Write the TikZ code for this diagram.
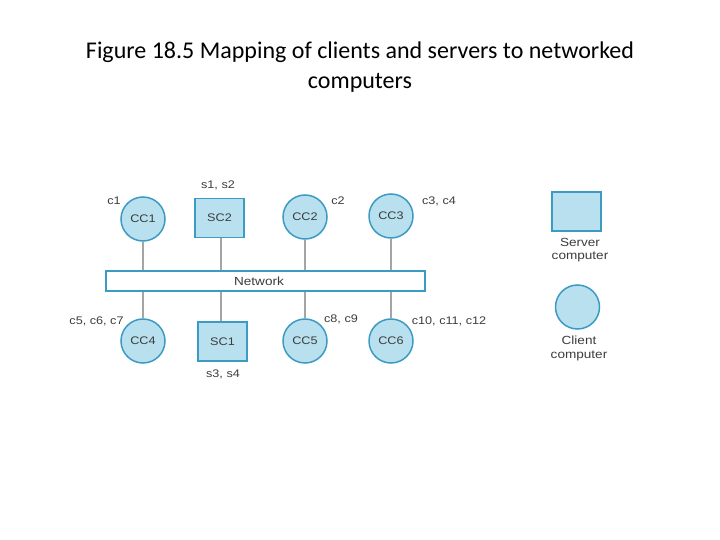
\documentclass[tikz,border=0pt]{standalone}
\usepackage{fontspec}
\setmainfont{Carlito}
\newfontfamily\figfont[FakeStretch=1.15]{Liberation Sans}
\definecolor{fillblue}{RGB}{184,224,238}
\definecolor{edgeblue}{RGB}{60,155,195}
\definecolor{linkgrey}{RGB}{165,165,165}
\definecolor{labelgrey}{RGB}{60,60,60}
\tikzset{
  client/.style={circle,draw=edgeblue,fill=fillblue,line width=1.5pt,minimum size=44pt,inner sep=0pt,font=\figfont\fontsize{11}{13}\selectfont,text=labelgrey},
  server/.style={rectangle,draw=edgeblue,fill=fillblue,line width=1.5pt,minimum width=49pt,minimum height=39pt,inner sep=0pt,font=\figfont\fontsize{11}{13}\selectfont,text=labelgrey},
  netbar/.style={rectangle,draw=edgeblue,fill=white,line width=1.5pt,minimum width=319pt,minimum height=20pt,inner sep=0pt,text=labelgrey},
  link/.style={draw=linkgrey,line width=1.5pt},
  lab/.style={inner sep=0pt,font=\figfont\fontsize{11}{13}\selectfont,text=labelgrey},
  legendtext/.style={inner sep=0pt,align=center,font=\figfont\fontsize{11.8}{13.5}\selectfont,text=labelgrey},
  titletext/.style={inner sep=0pt,align=center,font=\fontsize{24}{30}\selectfont,text=black}
}
\begin{document}
\begin{tikzpicture}[x=1pt,y=-1pt]
\useasboundingbox (0,0) rectangle (720,540);
\node[titletext] (title) at (360,67) {Figure 18.5 Mapping of clients and servers to networked\\computers};
\node[netbar] (net) at (265.5,281) {};
\node[lab,font=\figfont\fontsize{11.8}{13}\selectfont] (nettext) at (259,281) {Network};
\node[client] (cc1) at (143,219) {CC1};
\node[server] (sc2) at (219.5,218) {SC2};
\node[client] (cc2) at (305,217) {CC2};
\node[client] (cc3) at (391,216) {CC3};
\node[client] (cc4) at (143,341) {CC4};
\node[server] (sc1) at (222.5,341.5) {SC1};
\node[client] (cc5) at (305,341) {CC5};
\node[client] (cc6) at (391,341) {CC6};
\node[server] (lserver) at (576.5,211.5) {};
\node[client] (lclient) at (577.5,307) {};
\draw[link] (cc1.south) -- (cc1.south |- net.north);
\draw[link] ([xshift=1.5pt]sc2.south) -- ([xshift=1.5pt]sc2.south |- net.north);
\draw[link] (cc2.south) -- (cc2.south |- net.north);
\draw[link] (cc3.south) -- (cc3.south |- net.north);
\draw[link] (cc4.north) -- (cc4.north |- net.south);
\draw[link] ([xshift=-1.5pt]sc1.north) -- ([xshift=-1.5pt]sc1.north |- net.south);
\draw[link] (cc5.north) -- (cc5.north |- net.south);
\draw[link] (cc6.north) -- (cc6.north |- net.south);
\node[lab] (l1) at (114,201) {c1};
\node[lab] (l2) at (218,185) {s1, s2};
\node[lab] (l3) at (338,201) {c2};
\node[lab] (l4) at (439,201) {c3, c4};
\node[lab] (l5) at (96.5,321) {c5, c6, c7};
\node[lab] (l6) at (341,319) {c8, c9};
\node[lab] (l7) at (449,321) {c10, c11, c12};
\node[lab] (l8) at (223,374) {s3, s4};
\node[legendtext] (t1) at (580,250) {Server\\computer};
\node[legendtext] (t2) at (579,348.5) {Client\\computer};
\end{tikzpicture}
\end{document}
